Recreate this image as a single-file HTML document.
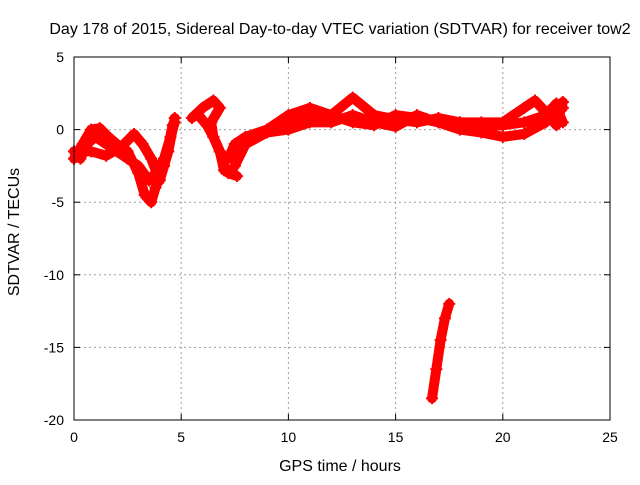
<!DOCTYPE html>
<html><head><meta charset="utf-8"><style>
body{margin:0;background:#fff;}
svg text{font-family:"Liberation Sans",sans-serif;font-size:14px;fill:#000;}
svg text.big{font-size:16px;}
</style></head><body>
<svg id="chart" width="640" height="480" xmlns="http://www.w3.org/2000/svg">
<rect width="640" height="480" fill="#fff"/>
<g id="grid"></g><g id="series"></g><g id="axes"></g>
<text class="big" x="340" y="34" text-anchor="middle">Day 178 of 2015, Sidereal Day-to-day VTEC variation (SDTVAR) for receiver tow2</text>
<text class="big" x="340" y="471" text-anchor="middle">GPS time / hours</text>
<text class="big" transform="translate(19,232) rotate(-90)" text-anchor="middle">SDTVAR / TECUs</text>
</svg>
<script>
const xTicks=[0,5,10,15,20,25];
const yTicks=[5,0,-5,-10,-15,-20];
const trackA=[[0,-1.5],[0.3,-2],[0.6,-1],[1,-0.5],[1.5,-1],[2,-1.5],[2.5,-2],[3,-2.5],[3.5,-3.5],[3.8,-3],[4.2,-2],[4.5,-0.5],[4.7,0.5]];
const trackB=[[0,-2],[0.4,-1],[0.8,0],[1.2,0.1],[1.6,-0.5],[2,-1],[2.5,-1.5],[3,-3],[3.3,-4.5],[3.6,-5],[3.8,-4],[4.2,-2.5],[4.6,0.3]];
const trackC=[[0.2,-1.5],[0.8,-1.5],[1.5,-1.8],[2.2,-1.2],[2.8,-0.3],[3.2,-1],[3.6,-2],[4,-3.5],[4.4,-1.5],[4.7,0.8]];
const trackD=[[5.5,0.8],[6,1.5],[6.5,2],[6.8,1.5],[6.4,0.5],[6.5,-0.5],[6.8,-1.5],[7,-2.5],[7.2,-3],[7.6,-3.2]];
const trackE=[[5.8,1],[6.2,0.3],[6.5,-0.5],[6.8,-1.5],[7,-2.8]];
const trackF=[[7.2,-2],[7.5,-1],[8,-0.5],[9,0],[10,0.5],[11,1.2],[12,1],[13,2.2],[14,1],[15,0.7],[16,0.5],[17,0.8],[18,0.5],[19,0.2],[20,0.3],[21,0.5],[22,1],[22.5,1.8],[22.8,1.5]];
const trackG=[[7.5,-2.5],[8,-1],[9,-0.2],[10,0],[11,0.5],[12,0.5],[13,1],[14,0.5],[15,0.2],[16,1],[17,0.5],[18,0],[19,-0.2],[20,-0.5],[21,-0.3],[22,0.5],[22.5,1.5],[22.8,0.5]];
const trackH=[[9,0],[10,1],[11,1.5],[12,1],[13,0.5],[14,0.3],[15,1],[16,0.8],[17,0.5],[18,0.5],[19,0.5],[20,0.5],[21,1.5],[21.5,2],[22,1.2],[22.5,0.3],[22.8,1.9]];
const trackI=[[16.7,-18.5],[16.9,-16.5],[17.1,-14.5],[17.3,-13],[17.5,-12]];
const tracks=[trackA,trackB,trackC,trackD,trackE,trackF,trackG,trackH,trackI];
const X0=74,X1=610,Y0=57,Y1=420;
const sx=v=>X0+(v-0)/(25-0)*(X1-X0);
const sy=v=>Y0+(5-v)/(5+20)*(Y1-Y0);
const NS='http://www.w3.org/2000/svg';
function mk(t,a,p){const e=document.createElementNS(NS,t);for(const k in a)e.setAttribute(k,a[k]);p.appendChild(e);return e;}
const grid=document.getElementById('grid'),axes=document.getElementById('axes'),ser=document.getElementById('series');
xTicks.forEach(t=>{const x=sx(t);
 if(t>0&&t<25){const l=mk('line',{x1:x,x2:x,y1:Y0,y2:Y1,stroke:'#a0a0a0','stroke-dasharray':'2,3'},grid);
 }
 mk('line',{x1:x,x2:x,y1:Y1,y2:Y1-6,stroke:'#000'},axes);mk('line',{x1:x,x2:x,y1:Y0,y2:Y0+6,stroke:'#000'},axes);
 const tx=mk('text',{x:x,y:Y1+22,'text-anchor':'middle'},axes);tx.textContent=t;
 });
yTicks.forEach(t=>{const y=sy(t);
 if(t<5&&t>-20){const l=mk('line',{x1:X0,x2:X1,y1:y,y2:y,stroke:'#a0a0a0','stroke-dasharray':'2,3'},grid);
 }
 mk('line',{x1:X0,x2:X0+6,y1:y,y2:y,stroke:'#000'},axes);mk('line',{x1:X1,x2:X1-6,y1:y,y2:y,stroke:'#000'},axes);
 const tx=mk('text',{x:X0-10,y:y+5,'text-anchor':'end'},axes);tx.textContent=t;
 });
const fr=mk('rect',{x:X0,y:Y0,width:X1-X0,height:Y1-Y0,fill:'none',stroke:'#000'},axes);

tracks.forEach(tr=>{
 const pl=mk('polyline',{points:tr.map(p=>sx(p[0])+','+sy(p[1])).join(' '),fill:'none',stroke:'#f00','stroke-width':10,'stroke-linejoin':'round','stroke-linecap':'round'},ser);
 
 tr.forEach(p=>{const x=sx(p[0]),y=sy(p[1]);
  const m=mk('path',{d:`M${x-6},${y}H${x+6}M${x},${y-6}V${y+6}`,stroke:'#f00','stroke-width':2},ser);
  });
});
</script>
</body></html>
